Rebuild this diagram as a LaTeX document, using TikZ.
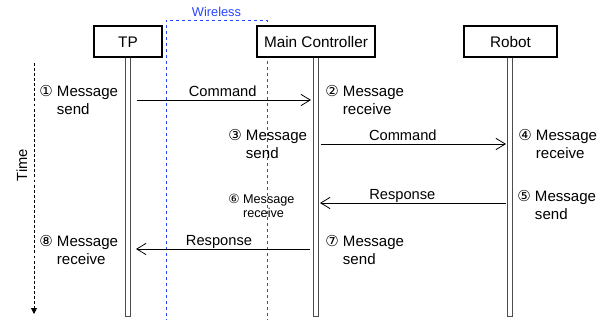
\documentclass[tikz,border=0pt]{standalone}
\usepackage{fontspec}
\setmainfont{Liberation Sans}
\newfontfamily\numfont{DejaVu Sans}
\usetikzlibrary{arrows.meta}

\tikzset{
  actor/.style={draw=black, line width=1.5pt, fill=white, minimum height=23.25pt, inner sep=0pt, font=\fontsize{11.5}{13.5}\selectfont},
  lifeline/.style={draw=black!70, line width=0.6pt, fill=white},
  msg/.style={line width=0.6pt, -{Straight Barb[length=7pt,width=8.5pt,line width=0.6pt]}},
  step label/.style={anchor=base west, inner sep=0pt, align=left, font=\fontsize{11.3}{13.5}\selectfont},
  msg label/.style={midway, anchor=base, inner sep=0pt, yshift=2.5pt, font=\fontsize{11}{13}\selectfont},
}

\begin{document}
\begin{tikzpicture}[x=0.75pt,y=0.75pt,yscale=-1,xscale=1]
\useasboundingbox (0,0) rectangle (610,320);

%Wireless region
\draw [color={rgb, 255:red, 40; green, 70; blue, 255 }, line width=0.6pt, dash pattern=on 2.5pt off 2pt] (166,322) |- (267,20) -- (267,322) ;
% Text Node
\draw (216.5,17) node (wireless) [anchor=base, inner sep=0pt, font=\fontsize{9.6}{11}\selectfont] {\textcolor[rgb]{0.16,0.27,1}{Wireless}};

%Lifelines
\draw [lifeline] (125.5,57) rectangle (130.5,316) ;
\draw [lifeline] (313.5,57) rectangle (318.5,316) ;
\draw [lifeline] (507.5,57) rectangle (512.5,316) ;

%Actor boxes
\node (tp) [actor, minimum width=51pt] at (128,42) {TP};
\node (mc) [actor, minimum width=88.5pt] at (316,42) {Main Controller};
\node (robot) [actor, minimum width=69.75pt] at (510.5,42) {Robot};

%Time axis
\coordinate (t0) at (34,63);
\coordinate (t1) at (34,314);
\draw [line width=0.6pt, dash pattern=on 2.2pt off 1.6pt, -{Triangle[length=4.5pt,width=4.5pt]}] (t0) -- (t1) ;
% Text Node
\draw (22,165) node (time) [rotate=90, inner sep=0pt, font=\fontsize{11}{13}\selectfont] {Time};

%Arrow end points
\coordinate (tpA) at (137,100);
\coordinate (mcA) at (311,100);
\coordinate (mcB) at (321,144);
\coordinate (rbB) at (506,144);
\coordinate (rbC) at (506,203);
\coordinate (mcC) at (320,203);
\coordinate (mcD) at (310,249);
\coordinate (tpD) at (136,249);

%Straight Lines
\draw [msg] (tpA) -- (mcA) node (cmd1) [msg label, xshift=-1pt] {Command};
\draw [msg] (mcB) -- (rbB) node (cmd2) [msg label, xshift=-8pt] {Command};
\draw [msg] (rbC) -- (mcC) node (rsp1) [msg label, xshift=-8pt] {Response};
\draw [msg] (mcD) -- (tpD) node (rsp2) [msg label, xshift=-3pt] {Response};

% Text Node (base = last line)
\draw (39,115) node (s1) [step label] {{\numfont ①} Message\\\hphantom{{\numfont ①} }send};
% Text Node
\draw (325,115) node (s2) [step label] {{\numfont ②} Message\\\hphantom{{\numfont ②} }receive};
% Text Node
\draw (228,159) node (s3) [step label] {{\numfont ③} Message\\\hphantom{{\numfont ③} }send};
% Text Node
\draw (518,159) node (s4) [step label] {{\numfont ④} Message\\\hphantom{{\numfont ④} }receive};
% Text Node
\draw (517,220) node (s5) [step label] {{\numfont ⑤} Message\\\hphantom{{\numfont ⑤} }send};
% Text Node
\draw (228,218) node (s6) [step label, font=\fontsize{9.5}{11.2}\selectfont] {{\numfont ⑥} Message\\\hphantom{{\numfont ⑥} }receive};
% Text Node
\draw (325,265) node (s7) [step label] {{\numfont ⑦} Message\\\hphantom{{\numfont ⑦} }send};
% Text Node
\draw (39,265) node (s8) [step label] {{\numfont ⑧} Message\\\hphantom{{\numfont ⑧} }receive};

\end{tikzpicture}
\end{document}
